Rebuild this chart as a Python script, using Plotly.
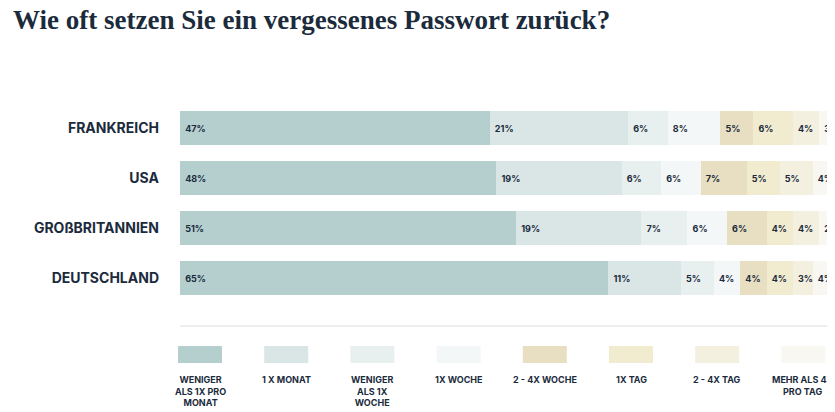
import plotly.graph_objects as go

countries = ["FRANKREICH", "USA", "GROßBRITANNIEN", "DEUTSCHLAND"]
categories = ["WENIGER<br>ALS 1X PRO<br>MONAT", "1 X MONAT", "WENIGER<br>ALS 1X<br>WOCHE", "1X WOCHE",
              "2 - 4X WOCHE", "1X TAG", "2 - 4X TAG", "MEHR ALS 4X<br>PRO TAG"]
values = [
    [47, 48, 51, 65],
    [21, 19, 19, 11],
    [6, 6, 7, 5],
    [8, 6, 6, 4],
    [5, 7, 6, 4],
    [6, 5, 4, 4],
    [4, 5, 4, 3],
    [3, 4, 2, 4],
]
colors = ["#b5cfcf", "#d9e6e5", "#e8f0ef", "#f4f7f7", "#e8dfc2", "#f1ebd0", "#f4f0e0", "#f8f7f2"]

DARK = "#1b2b3c"
W, H = 835, 412
L, R, T, B = 172, 4, 95, 117
pw, ph = W - L - R, H - T - B

fig = go.Figure()
for cat, vals, col in zip(categories, values, colors):
    fig.add_trace(go.Bar(
        y=countries, x=vals, orientation="h", name=cat,
        marker=dict(color=col, line=dict(width=0)),
        text=[f" {v}%" for v in vals], textposition="inside", insidetextanchor="start",
        textangle=0, constraintext="none", cliponaxis=False,
        textfont=dict(size=9, color=DARK, family="Inter", weight="bold"),
        width=0.68, hoverinfo="skip",
    ))

for i, (cat, col) in enumerate(zip(categories, colors)):
    cx = 192 + i * 86.2
    x0 = (cx - 22 - L) / pw
    x1 = (cx + 22 - L) / pw
    fig.add_shape(type="rect", xref="paper", yref="paper", x0=x0, x1=x1,
                  y0=(T + ph - 355) / ph, y1=(T + ph - 338) / ph,
                  fillcolor=col, line=dict(width=0), layer="below")
    fig.add_annotation(xref="paper", yref="paper", x=(cx - L) / pw, y=(T + ph - 364) / ph,
                       text=cat, showarrow=False, yanchor="top", xanchor="center",
                       font=dict(size=9, color=DARK, family="Inter", weight="bold"), align="center")

fig.add_shape(type="line", xref="paper", yref="paper", x0=0, x1=1,
              y0=(T + ph - 318) / ph, y1=(T + ph - 318) / ph, line=dict(color="#dddddd", width=1))

fig.update_layout(
    width=W, height=H, margin=dict(l=L, r=R, t=T, b=B, autoexpand=False),
    barmode="stack", showlegend=False, bargap=0.32,
    paper_bgcolor="white", plot_bgcolor="white",
    uniformtext=dict(minsize=9, mode="show"),
    title=dict(text="<b>Wie oft setzen Sie ein vergessenes Passwort zurück?</b>",
               x=0.006, xanchor="left", y=0.995, yanchor="top",
               font=dict(family="Liberation Serif", size=27, color=DARK)),
    xaxis=dict(range=[0, 100], visible=False, automargin=False),
    yaxis=dict(autorange="reversed", ticklabelstandoff=20, showgrid=False, automargin=False,
               tickfont=dict(family="Inter", size=14, color=DARK, weight="bold")),
)

fig.write_html("out.html")
